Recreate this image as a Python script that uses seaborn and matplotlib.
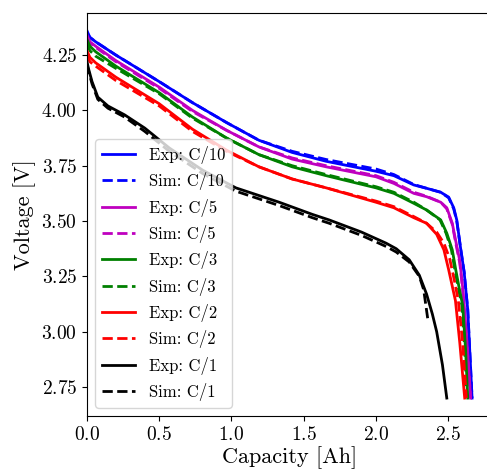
import numpy as np
import pandas as pd
import matplotlib
matplotlib.use("Agg")
import matplotlib.pyplot as plt
import seaborn as sns

plt.rcParams["font.family"] = "serif"
plt.rcParams["font.serif"] = ["cmr10"]
plt.rcParams["mathtext.fontset"] = "cm"
plt.rcParams["axes.formatter.use_mathtext"] = True

rates = ["C/10", "C/5", "C/3", "C/2", "C/1"]
colors = ["b", "m", "g", "r", "k"]

# experimental curves (capacity [Ah], voltage [V])
exp_c10_x = [0, 0.02, 0.06, 0.2, 0.5, 0.73, 0.966, 1.19, 1.42, 1.655, 2.0, 2.124, 2.262, 2.35, 2.448, 2.503, 2.538, 2.559, 2.585, 2.61, 2.635, 2.65, 2.665]
exp_c10_y = [4.36, 4.33, 4.31, 4.25, 4.13, 4.035, 3.945, 3.865, 3.81, 3.77, 3.725, 3.705, 3.663, 3.648, 3.63, 3.608, 3.56, 3.505, 3.38, 3.27, 3.10, 2.90, 2.70]
exp_c5_x = [0, 0.02, 0.06, 0.2, 0.5, 0.73, 0.966, 1.19, 1.42, 1.655, 2.0, 2.124, 2.262, 2.35, 2.448, 2.49, 2.528, 2.552, 2.58, 2.60, 2.63, 2.655]
exp_c5_y = [4.34, 4.31, 4.29, 4.225, 4.105, 4.00, 3.91, 3.835, 3.78, 3.745, 3.70, 3.67, 3.625, 3.61, 3.585, 3.56, 3.49, 3.41, 3.32, 3.20, 2.95, 2.70]
exp_c3_x = [0, 0.02, 0.06, 0.2, 0.5, 0.73, 0.966, 1.19, 1.42, 1.655, 2.0, 2.124, 2.262, 2.35, 2.448, 2.49, 2.528, 2.552, 2.575, 2.60, 2.62, 2.635]
exp_c3_y = [4.32, 4.29, 4.265, 4.20, 4.08, 3.97, 3.875, 3.80, 3.745, 3.705, 3.65, 3.625, 3.58, 3.55, 3.505, 3.445, 3.37, 3.28, 3.20, 3.12, 2.92, 2.70]
exp_c2_x = [0, 0.02, 0.06, 0.2, 0.5, 0.73, 0.966, 1.19, 1.42, 1.655, 2.0, 2.124, 2.262, 2.35, 2.42, 2.47, 2.503, 2.55, 2.58, 2.614]
exp_c2_y = [4.27, 4.24, 4.215, 4.15, 4.03, 3.915, 3.82, 3.745, 3.69, 3.65, 3.585, 3.56, 3.515, 3.49, 3.44, 3.37, 3.28, 3.14, 2.95, 2.70]
exp_c1_x = [0, 0.01, 0.035, 0.075, 0.145, 0.26, 0.4, 0.57, 0.8, 1.03, 1.33, 1.56, 1.676, 1.9, 2.07, 2.14, 2.23, 2.30, 2.35, 2.39, 2.42, 2.46, 2.49]
exp_c1_y = [4.22, 4.19, 4.13, 4.06, 4.02, 3.98, 3.92, 3.83, 3.73, 3.65, 3.585, 3.53, 3.505, 3.45, 3.40, 3.375, 3.325, 3.255, 3.17, 3.08, 3.00, 2.85, 2.70]

# simulated curves
sim_c10_x = [0, 0.02, 0.06, 0.2, 0.5, 0.73, 0.966, 1.19, 1.42, 1.655, 2.0, 2.124, 2.262, 2.35, 2.448, 2.503, 2.538, 2.559, 2.585, 2.61, 2.635, 2.65, 2.665]
sim_c10_y = [4.35, 4.33, 4.31, 4.25, 4.13, 4.035, 3.945, 3.865, 3.815, 3.778, 3.735, 3.71, 3.665, 3.648, 3.63, 3.605, 3.555, 3.50, 3.38, 3.27, 3.10, 2.90, 2.70]
sim_c5_x = [0, 0.02, 0.06, 0.2, 0.5, 0.73, 0.966, 1.19, 1.42, 1.655, 2.0, 2.124, 2.262, 2.35, 2.448, 2.49, 2.528, 2.552, 2.58, 2.60, 2.63, 2.655]
sim_c5_y = [4.33, 4.305, 4.285, 4.22, 4.10, 3.995, 3.91, 3.835, 3.785, 3.75, 3.705, 3.675, 3.63, 3.612, 3.585, 3.555, 3.485, 3.40, 3.31, 3.19, 2.94, 2.70]
sim_c3_x = [0, 0.02, 0.06, 0.2, 0.5, 0.73, 0.966, 1.19, 1.42, 1.655, 2.0, 2.124, 2.262, 2.35, 2.443, 2.485, 2.522, 2.546, 2.569, 2.594, 2.614, 2.63]
sim_c3_y = [4.30, 4.27, 4.245, 4.19, 4.075, 3.965, 3.875, 3.80, 3.75, 3.71, 3.655, 3.63, 3.585, 3.55, 3.505, 3.445, 3.37, 3.28, 3.20, 3.12, 2.92, 2.70]
sim_c2_x = [0, 0.02, 0.06, 0.2, 0.5, 0.73, 0.966, 1.19, 1.42, 1.655, 2.0, 2.124, 2.262, 2.35, 2.42, 2.47, 2.51, 2.54, 2.57, 2.60, 2.625]
sim_c2_y = [4.25, 4.22, 4.20, 4.135, 4.02, 3.905, 3.815, 3.745, 3.69, 3.65, 3.59, 3.565, 3.52, 3.49, 3.45, 3.40, 3.33, 3.24, 3.14, 2.95, 2.70]
sim_c1_x = [0, 0.01, 0.035, 0.075, 0.145, 0.26, 0.4, 0.57, 0.8, 1.03, 1.33, 1.56, 1.676, 1.9, 2.07, 2.14, 2.23, 2.30, 2.33, 2.345, 2.36]
sim_c1_y = [4.21, 4.18, 4.12, 4.05, 4.01, 3.97, 3.905, 3.815, 3.715, 3.635, 3.57, 3.515, 3.49, 3.435, 3.385, 3.36, 3.315, 3.25, 3.19, 3.12, 3.05]

exp_x = [exp_c10_x, exp_c5_x, exp_c3_x, exp_c2_x, exp_c1_x]
exp_y = [exp_c10_y, exp_c5_y, exp_c3_y, exp_c2_y, exp_c1_y]
sim_x = [sim_c10_x, sim_c5_x, sim_c3_x, sim_c2_x, sim_c1_x]
sim_y = [sim_c10_y, sim_c5_y, sim_c3_y, sim_c2_y, sim_c1_y]

fig = plt.figure(figsize = (4.87, 4.70), dpi = 100)
ax = fig.add_axes([0.1786, 0.1149, 0.8308, 0.8574])

for rate, c, ex, ey, sx, sy in zip(rates, colors, exp_x, exp_y, sim_x, sim_y):
    sns.lineplot(x = ex, y = ey, ax = ax, color = c, linewidth = 2,
                 sort = False, estimator = None, label = "Exp: {}".format(rate))
    sns.lineplot(x = sx, y = sy, ax = ax, color = c, linewidth = 2, linestyle = "--",
                 sort = False, estimator = None, label = "Sim: {}".format(rate))

ax.set_xlim(0, 2.8)
ax.set_ylim(2.619, 4.44)
ax.set_xticks([0.0, 0.5, 1.0, 1.5, 2.0, 2.5])
ax.set_yticks([2.75, 3.00, 3.25, 3.50, 3.75, 4.00, 4.25])
ax.tick_params(labelsize = 14)
ax.set_xlabel("Capacity [Ah]", fontsize = 16, labelpad = 1.5)
ax.set_ylabel("Voltage [V]", fontsize = 16)
ax.legend(loc = "lower left", fontsize = 12)

fig.savefig("out.png", dpi = 100, facecolor = "w")
